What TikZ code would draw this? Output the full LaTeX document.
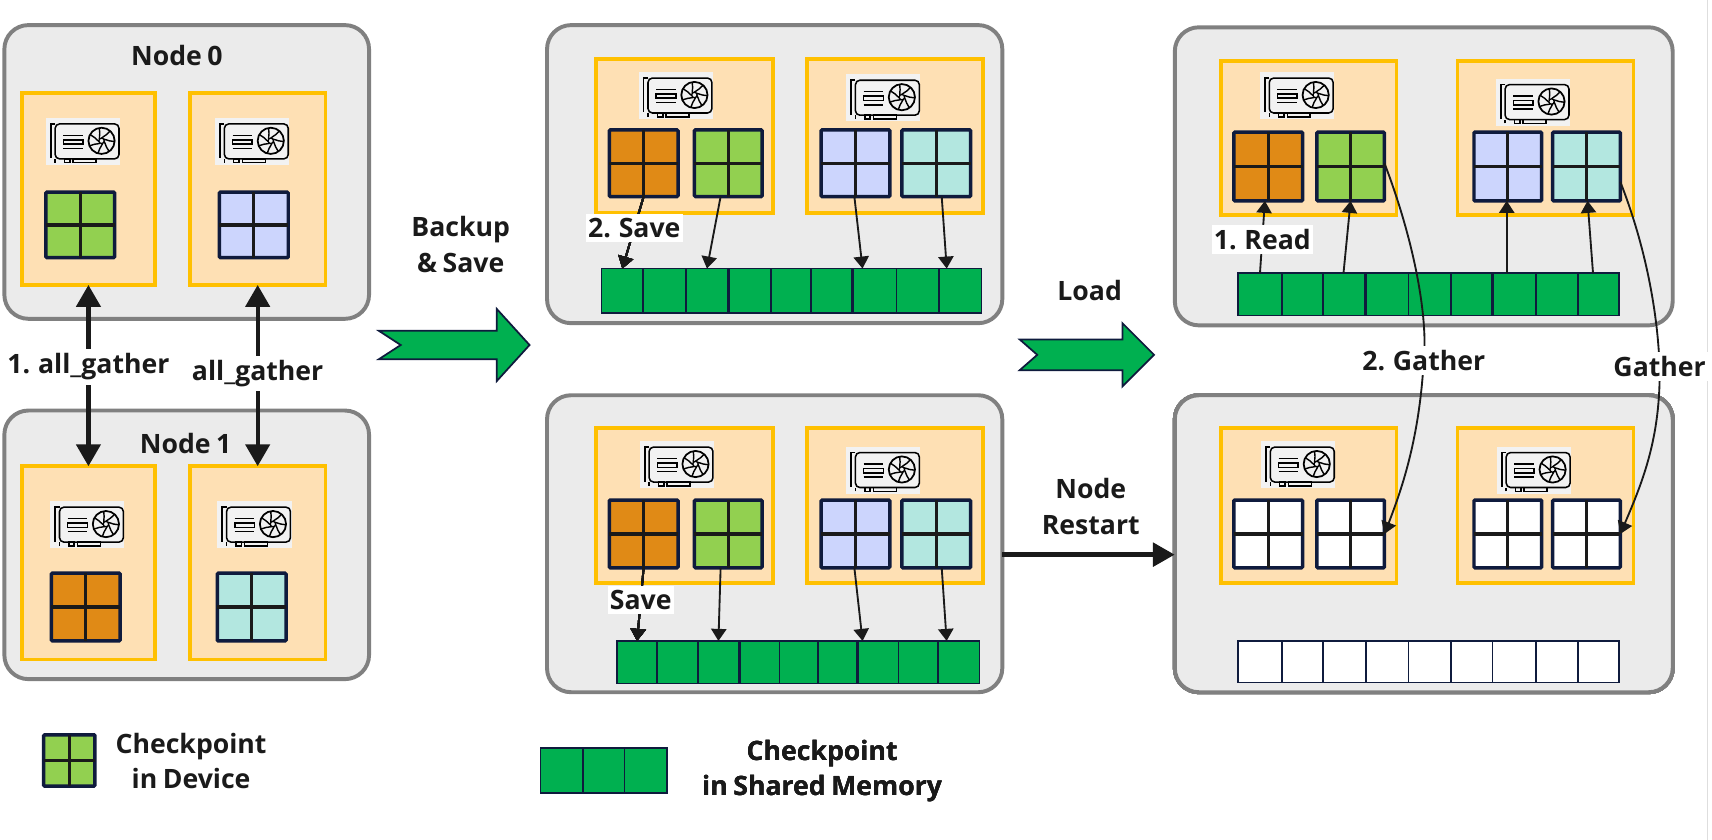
\documentclass[tikz,border=0pt]{standalone}
\usepackage{fontspec}
\setmainfont[WordSpace=0.8]{Open Sans}
\usetikzlibrary{arrows.meta}
\definecolor{panelgray}{HTML}{EBEBEB}
\definecolor{panelline}{HTML}{808080}
\definecolor{goldfill}{HTML}{FEE0B4}
\definecolor{goldline}{HTML}{FFC000}
\definecolor{navyline}{HTML}{0F1B3D}
\definecolor{inkblack}{HTML}{1A1A1A}
\definecolor{memgreen}{HTML}{00B050}
\definecolor{tilegreen}{HTML}{92D050}
\definecolor{tileorange}{HTML}{E08A16}
\definecolor{tileblue}{HTML}{CCD5FD}
\definecolor{tileteal}{HTML}{B3E7E0}
\tikzset{
	nodebox/.style={draw=panelline,fill=panelgray,line width=1.8pt,rounded corners=11pt},
	gpubox/.style={draw=goldline,fill=goldfill,line width=1.7pt},
	tilebox/.style={draw=navyline,line width=1.6pt,rounded corners=0.5pt},
	memcell/.style={draw=navyline,fill=memgreen,line width=0.8pt},
	blankcell/.style={draw=navyline,fill=white,line width=0.8pt},
	memjoin/.style={draw=navyline,line width=1.3pt},
	heavy/.style={draw=inkblack,line width=1.9pt,{Triangle[length=10pt,width=11pt]}-{Triangle[length=10pt,width=11pt]}},
	heavyone/.style={draw=inkblack,line width=2.5pt,-{Triangle[length=10pt,width=10.5pt]}},
	thin/.style={draw=inkblack,line width=0.85pt,-{Triangle[length=5.5pt,width=7pt]}},
	txt/.style={font=\fontsize{12.2}{16.2}\selectfont\bfseries,text=inkblack,align=center,inner sep=0pt},
	lbl/.style={txt,fill=white,inner xsep=1pt,inner ysep=2pt},
	bigarrow/.style={draw=navyline,fill=memgreen,line width=0.8pt,line join=miter},
	pics/gpu/.style={code={
		\fill[black!5] (0,0) rectangle (68,43);
		\draw[line width=0.7pt,rounded corners=2pt] (8.5,37.5) -- (8.5,5.5) -- (67,5.5) -- (67,37.5) -- cycle;
		\draw[line width=0.7pt] (8.5,5.5) -- (4.5,5.5) -- (4.5,37) (8.5,41) -- (8.5,37.5);
		\draw[line width=0.7pt] (17,37.5) rectangle (22,41) (25,37.5) rectangle (46,41);
		\draw[line width=0.7pt] (16,16) -- (34,16) (16,20) rectangle (34,24) (16,28) -- (34,28);
		\draw[line width=0.8pt] (51,21) circle [radius=12];
		\draw[line width=0.6pt] (51,21) circle [radius=2.5];
		\foreach \r in {0,51.4,102.8,154.2,205.6,257,308.4}
			\draw[line width=0.65pt,shift={(51,21)},rotate=\r] (0,-2.5) .. controls (3,-5) and (6,-6) .. (8,-9);
	}}
}
% box from two corners, given in pixels
\newcommand{\boxat}[6]{\node[#1,minimum width={(#5-#3)*0.5pt},minimum height={(#6-#4)*0.5pt},inner sep=0pt,outer sep=0pt] (#2) at ({(#3+#5)/2},{(#4+#6)/2}) {};}
\newcommand{\gridtile}[6]{
	\boxat{tilebox,fill=#6}{#1}{#2}{#3}{#4}{#5}
	\draw[inkblack,line width=1.5pt] (#1.north) -- (#1.south) (#1.west) -- (#1.east);
}
\begin{document}
\begin{tikzpicture}[x=0.5pt,y=-0.5pt]
	\useasboundingbox (0,0) rectangle (1568,769.3);
	\draw[black!13,line width=0.7pt] (1564,0) -- (1564,769);
	% left column
	\boxat{nodebox}{nA}{4}{23}{338}{292}
	\boxat{nodebox}{nB}{4}{376}{338}{622}
	\boxat{gpubox}{gA}{20}{85}{142}{261}
	\boxat{gpubox}{gB}{174}{85}{298}{261}
	\boxat{gpubox}{gC}{20}{427}{142}{604}
	\boxat{gpubox}{gD}{174}{427}{298}{604}
	\pic at (42,108) {gpu};
	\pic at (197,108) {gpu};
	\pic at (46,459) {gpu};
	\pic at (199,459) {gpu};
	\gridtile{tA}{42}{176}{105}{236}{tilegreen}
	\gridtile{tB}{201}{176}{264}{236}{tileblue}
	\gridtile{tC}{47}{525}{110}{587}{tileorange}
	\gridtile{tD}{199}{525}{262}{587}{tileteal}
	\node[txt] (titleA) at (162,51) {Node 0};
	\node[txt] (titleB) at (170,406) {Node 1};
	\draw[heavy] (gA.south) -- (gC.north) node[lbl,pos=0.452] (lgA) {1. all\_gather};
	\draw[heavy] (gB.south) -- (gD.north) node[lbl,pos=0.488] (lgB) {all\_gather};
	\draw[bigarrow] (347,303) -- (455,303) -- (455,283) -- (485,316) -- (455,349) -- (455,329) -- (347,329) -- (367,316) -- cycle;
	\node[txt] (backup) at (422,224) {Backup\\\& Save};
	% middle column, top
	\boxat{nodebox}{nC}{501}{23}{918}{296}
	\boxat{gpubox}{gE}{546}{54}{708}{195}
	\boxat{gpubox}{gF}{739}{54}{900}{195}
	\pic at (585,66) {gpu};
	\pic at (775,68) {gpu};
	\gridtile{tE}{558}{119}{621}{180}{tileorange}
	\gridtile{tF}{636}{119}{698}{180}{tilegreen}
	\gridtile{tG}{752}{119}{815}{180}{tileblue}
	\gridtile{tH}{826}{119}{889}{180}{tileteal}
	\foreach \a/\b [count=\i] in {551/589,589/628,628/667,667/706,706/743,743/781,781/821,821/860,860/899}
		\boxat{memcell}{mC\i}{\a}{246}{\b}{287}
	\draw[thin] (tE.south) -- (mC1.north) node[lbl,pos=0.44] (lsA) {2. Save};
	\draw[thin] ([xshift=-3.5pt]tF.south) -- (mC3.north);
	\draw[thin] ([xshift=-0.5pt]tG.south) -- ([xshift=-5.5pt]mC7.north);
	\draw[thin] ([xshift=2.5pt]tH.south) -- ([xshift=-6.2pt]mC9.north);
	% middle column, bottom
	\boxat{nodebox}{nD}{501}{362}{918}{634}
	\boxat{gpubox}{gG}{546}{392}{708}{534}
	\boxat{gpubox}{gH}{739}{392}{900}{534}
	\pic at (586,404) {gpu};
	\pic at (775,409) {gpu};
	\gridtile{tI}{558}{458}{621}{520}{tileorange}
	\gridtile{tJ}{636}{458}{698}{520}{tilegreen}
	\gridtile{tK}{752}{458}{815}{520}{tileblue}
	\gridtile{tL}{826}{458}{889}{520}{tileteal}
	\foreach \a/\b [count=\i] in {565/602,602/639,639/677,677/714,714/749,749/785,785/823,823/859,859/897}
		\boxat{memcell}{mD\i}{\a}{587}{\b}{626}
	\draw[thin] (tI.south) -- (mD1.north) node[lbl,pos=0.44] (lsB) {Save};
	\draw[thin] ([xshift=-3.5pt]tJ.south) -- (mD3.north);
	\draw[thin] ([xshift=-0.5pt]tK.south) -- ([xshift=-7pt]mD7.north);
	\draw[thin] ([xshift=2.5pt]tL.south) -- ([xshift=-5.5pt]mD9.north);
	% right column, top
	\boxat{nodebox}{nE}{1076}{25}{1532}{298}
	\boxat{gpubox}{gI}{1118}{56}{1279}{197}
	\boxat{gpubox}{gJ}{1335}{56}{1496}{197}
	\pic at (1154,66) {gpu};
	\pic at (1370,72) {gpu};
	\gridtile{tM}{1130}{121}{1193}{184}{tileorange}
	\gridtile{tN}{1206}{121}{1268}{184}{tilegreen}
	\gridtile{tO}{1350}{121}{1412}{184}{tileblue}
	\gridtile{tP}{1422}{121}{1484}{184}{tileteal}
	\foreach \a/\b [count=\i] in {1134/1174,1174/1212,1212/1251,1251/1290,1290/1329,1329/1367,1367/1407,1407/1445,1445/1483}
		\boxat{memcell}{mE\i}{\a}{250}{\b}{289}
	% right column, bottom
	\boxat{nodebox}{nF}{1076}{362}{1532}{634}
	\boxat{gpubox}{gK}{1118}{392}{1279}{534}
	\boxat{gpubox}{gL}{1335}{392}{1496}{534}
	\pic at (1155,404) {gpu};
	\pic at (1371,409) {gpu};
	\gridtile{tQ}{1130}{458}{1193}{520}{white}
	\gridtile{tR}{1206}{458}{1268}{520}{white}
	\gridtile{tS}{1350}{458}{1412}{520}{white}
	\gridtile{tT}{1422}{458}{1484}{520}{white}
	\foreach \a/\b [count=\i] in {1134/1174,1174/1212,1212/1251,1251/1290,1290/1329,1329/1367,1367/1407,1407/1445,1445/1483}
		\boxat{blankcell}{mF\i}{\a}{587}{\b}{625}
	\foreach \m in {mC,mD,mE}
		\draw[memjoin] (\m3.north east) -- (\m3.south east) (\m6.north east) -- (\m6.south east);
	\draw[thin] (mE1.north) -- ([xshift=-1.5pt]tM.south) node[lbl,pos=0.46] (lrA) {1. Read};
	\draw[thin] ([xshift=-0.5pt]mE3.north) -- (tN.south);
	\draw[thin] ([xshift=-3.5pt]mE7.north) -- ([xshift=-0.5pt]tO.south);
	\draw[thin] ([xshift=-2.5pt]mE9.north) -- ([xshift=0.5pt]tP.south);
	\draw[thin] ([yshift=1.5pt]tN.east) .. controls (1295,220) and (1308,290) .. (1304,330) node[lbl] (lgC) {2. Gather} .. controls (1300,400) and (1285,445) .. (tR.east);
	\draw[thin] ([yshift=-7pt]tP.east) .. controls (1505,220) and (1518,280) .. (1520,336) node[lbl] (lgD) {Gather} .. controls (1521,400) and (1505,440) .. (tT.east);
	% between the columns
	\node[txt] (load) at (998,266) {Load};
	\draw[bigarrow] (934,311) -- (1028,311) -- (1028,296) -- (1057,325) -- (1028,354) -- (1028,339) -- (934,339) -- (950,325) -- cycle;
	\node[txt] (restart) at (999,464) {Node\\Restart};
	\draw[heavyone] (nD.east |- 0,508) -- (nF.west |- 0,508);
	% legend
	\gridtile{tU}{40}{673}{87}{720}{tilegreen}
	\node[txt] (legA) at (175,697) {Checkpoint\\in Device};
	\foreach \a/\b [count=\i] in {495/534,534/572,572/611}
		\boxat{memcell}{mG\i}{\a}{685}{\b}{726}
	\node[txt] (legB) at (753,706.5) {Checkpoint\\in Shared Memory};
\end{tikzpicture}
\end{document}
